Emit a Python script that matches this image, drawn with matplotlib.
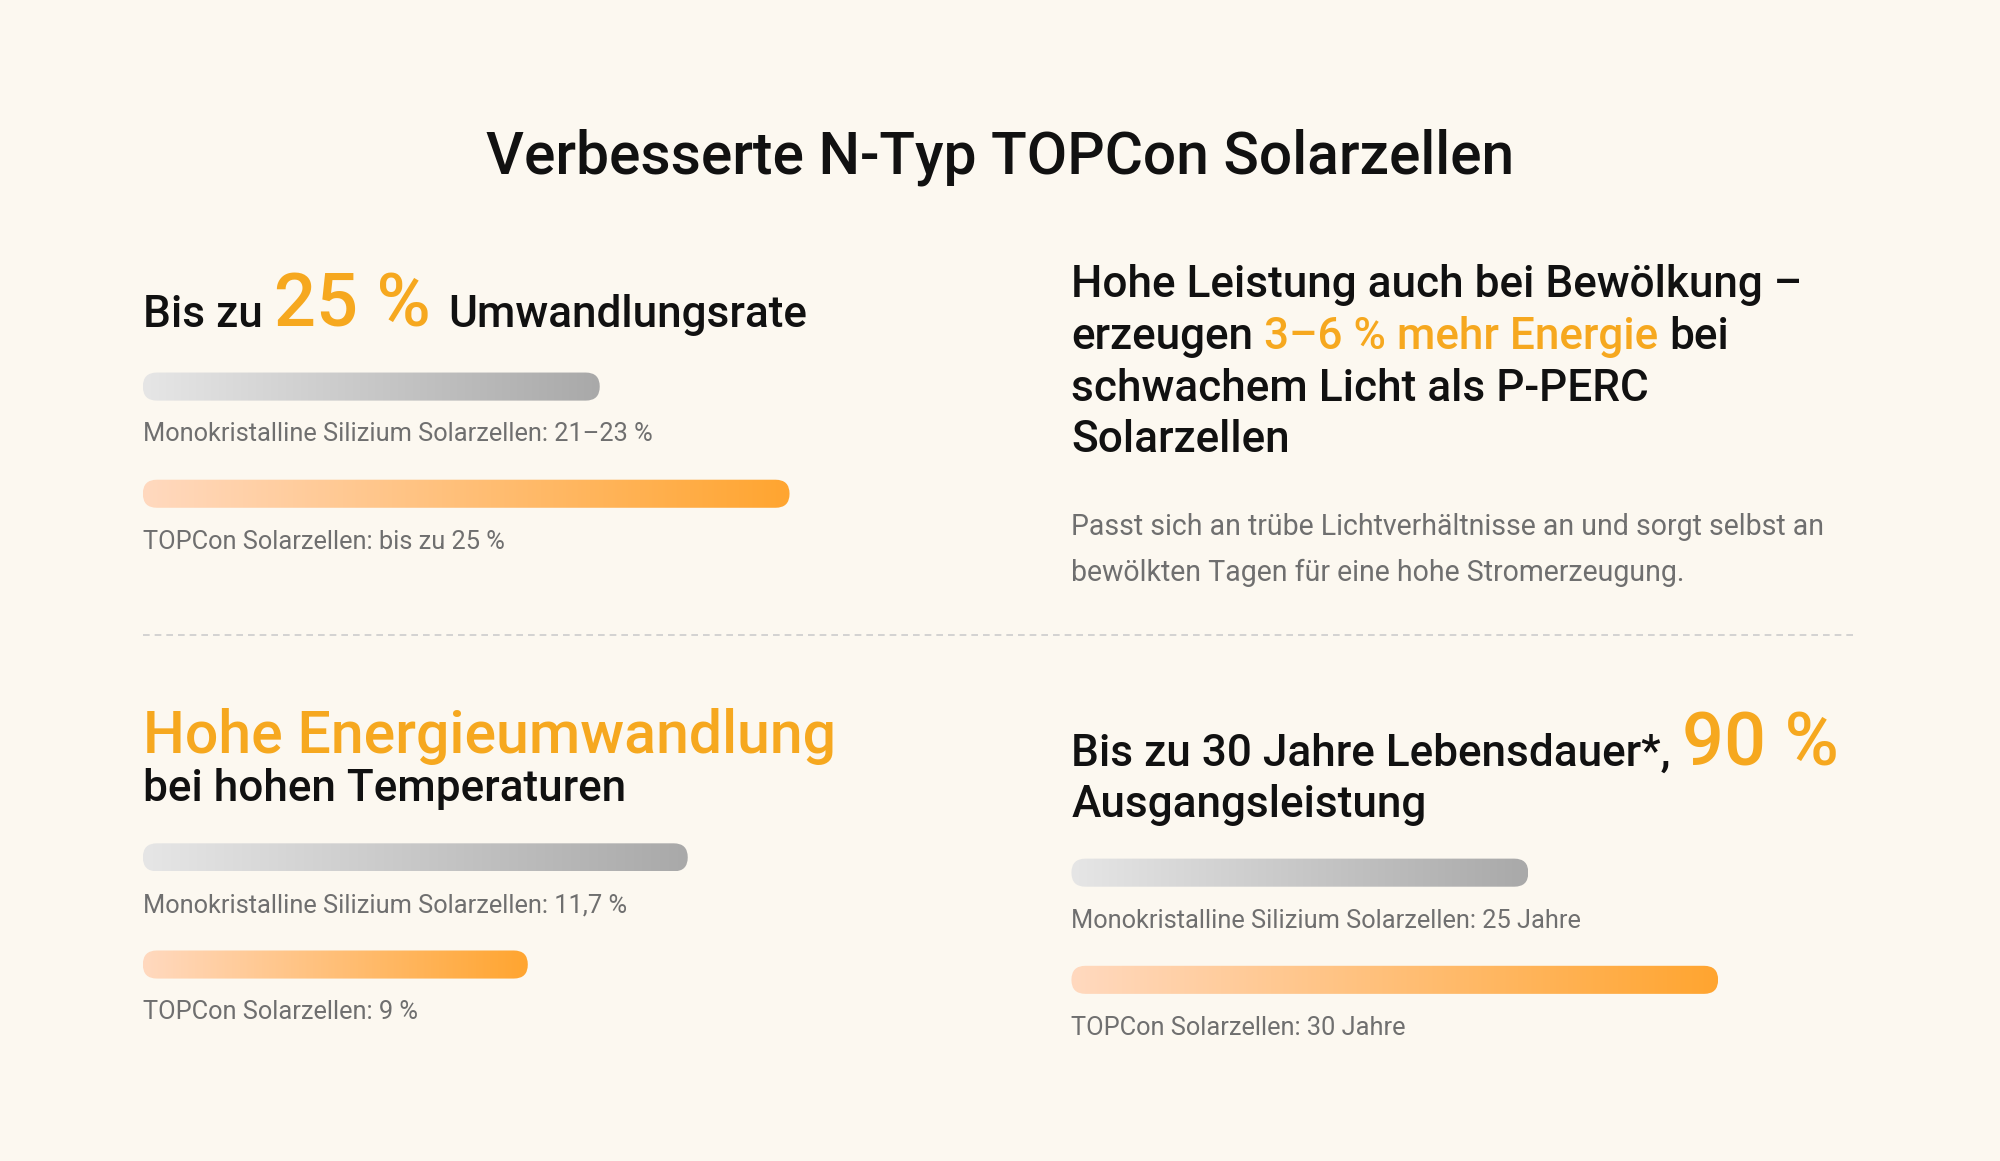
import numpy as np
import matplotlib
matplotlib.use("Agg")
import matplotlib.pyplot as plt
from matplotlib.colors import LinearSegmentedColormap
from matplotlib.patches import FancyBboxPatch

# ---- content ----
title = "Verbesserte N-Typ TOPCon Solarzellen"

# bar lengths (0-100 track scale)
tl_values = [59.7, 84.5]
bl_values = [71.2, 50.3]
br_values = [59.7, 84.5]

tl_labels = ["Monokristalline Silizium Solarzellen: 21–23 %", "TOPCon Solarzellen: bis zu 25 %"]
bl_labels = ["Monokristalline Silizium Solarzellen: 11,7 %", "TOPCon Solarzellen: 9 %"]
br_labels = ["Monokristalline Silizium Solarzellen: 25 Jahre", "TOPCon Solarzellen: 30 Jahre"]

tr_lines = [
    [("Hohe Leistung auch bei Bewölkung –", "k")],
    [("erzeugen", "k"), ("3–6 % mehr Energie", "o"), ("bei", "k")],
    [("schwachem Licht als P-PERC", "k")],
    [("Solarzellen", "k")],
]
tr_para = ["Passt sich an trübe Lichtverhältnisse an und sorgt selbst an",
           "bewölkten Tagen für eine hohe Stromerzeugung."]

# ---- style ----
BG = "#fcf8f0"
ORANGE = "#f6a81f"
BLACK = "#111111"
GREY_TXT = "#6f6f6f"
grey_cmap = LinearSegmentedColormap.from_list("g", ["#e6e6e6", "#a9a9a9"])
orange_cmap = LinearSegmentedColormap.from_list("o", ["#ffd9bf", "#ffa530"])

W, H = 1568, 910
plt.rcParams["font.family"] = ["Roboto", "DejaVu Sans"]

fig = plt.figure(figsize=(20, 11.61), dpi=100, facecolor=BG)
ax = fig.add_axes([0, 0, 1, 1])
ax.set_facecolor(BG)
ax.set_xlim(0, W)
ax.set_ylim(H, 0)
ax.axis("off")
renderer = fig.canvas.get_renderer()
PX = 2000 / W


def fs(em):
    # em height in layout px -> points
    return em * PX * 0.72


def width_of(t):
    return t.get_window_extent(renderer).width / PX


def space_w(size, weight):
    a = ax.text(0, 0, "x x", fontsize=size, fontweight=weight)
    b = ax.text(0, 0, "xx", fontsize=size, fontweight=weight)
    w = width_of(a) - width_of(b)
    a.remove(); b.remove()
    return w


def runs(x, y, parts, weight=500):
    for i, (s, size, color) in enumerate(parts):
        t = ax.text(x, y, s, fontsize=size, color=color, va="baseline",
                    ha="left", fontweight=weight)
        x += width_of(t) + space_w(size, weight)


def bars(x0, yc, values, labels, scale=6.0, h=22):
    for v, lab, cmap, y in zip(values, labels, [grey_cmap, orange_cmap], yc):
        x1 = x0 + v * scale
        patch = FancyBboxPatch((x0, y - h / 2), x1 - x0, h,
                               boxstyle=f"round,pad=0,rounding_size={h/2}",
                               fc="none", ec="none")
        ax.add_patch(patch)
        grad = np.linspace(0, 1, 256).reshape(1, -1)
        im = ax.imshow(grad, cmap=cmap, extent=(x0, x1, y + h / 2, y - h / 2),
                       aspect="auto", interpolation="bicubic")
        im.set_clip_path(patch)
        ax.text(x0, y + 43, lab, fontsize=fs(19.9), color=GREY_TXT,
                va="baseline", ha="left")


HEAD = fs(34.6)
BIG = fs(58)

ax.text(W / 2, 136, title, fontsize=fs(46), color=BLACK, ha="center",
        va="baseline", fontweight=500)

# top left
runs(112, 256, [("Bis zu", HEAD, BLACK), ("25 %", BIG, ORANGE),
                ("Umwandlungsrate", HEAD, BLACK)])
bars(112, [303, 387], tl_values, tl_labels)

# top right
cmap_txt = {"k": BLACK, "o": ORANGE}
for i, line in enumerate(tr_lines):
    runs(840, 233 + i * 40.5, [(s, HEAD, cmap_txt[c]) for s, c in line])
for i, line in enumerate(tr_para):
    ax.text(840, 419 + i * 36.5, line, fontsize=fs(22.4), color=GREY_TXT,
            va="baseline", ha="left")

# divider
ax.plot([112, 1456], [498, 498], color="#cccccc", lw=1.2, dashes=(4, 3))

# bottom left
ax.text(112, 590, "Hohe Energieumwandlung", fontsize=fs(46.3), color=ORANGE,
        va="baseline", ha="left", fontweight=500)
ax.text(112, 628, "bei hohen Temperaturen", fontsize=HEAD, color=BLACK,
        va="baseline", ha="left", fontweight=500)
bars(112, [672, 756], bl_values, bl_labels)

# bottom right
runs(840, 600, [("Bis zu 30 Jahre Lebensdauer*,", HEAD, BLACK), ("90 %", BIG, ORANGE)])
ax.text(840, 640, "Ausgangsleistung", fontsize=HEAD, color=BLACK,
        va="baseline", ha="left", fontweight=500)
bars(840, [684, 768], br_values, br_labels)

ax.set_xlim(0, W)
ax.set_ylim(H, 0)
fig.savefig("out.png", dpi=100, facecolor=BG)
